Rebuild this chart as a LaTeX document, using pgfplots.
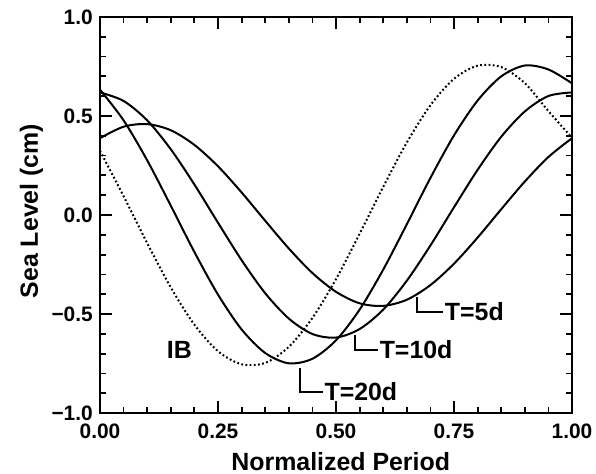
\documentclass[border=0pt]{standalone}
\usepackage{fontspec}
\setmainfont{Liberation Sans}
\usepackage{pgfplots}
\pgfplotsset{compat=1.18}

\begin{document}
\fontsize{21}{25}\selectfont\bfseries
\begin{tikzpicture}
\begin{axis}[
  scale only axis, width=472bp, height=396bp,
  xmin=0, xmax=1, ymin=-1, ymax=1,
  xtick={0,0.25,0.5,0.75,1}, xticklabels={0.00,0.25,0.50,0.75,1.00},
  ytick={-1,-0.5,0,0.5,1}, yticklabels={−1.0,−0.5,0.0,0.5,1.0},
  minor x tick num=4, minor y tick num=4,
  tick align=inside, major tick length=12bp, minor tick length=6bp,
  every tick/.style={black, line width=1.8bp},
  axis line style={line width=2.5bp},
  tick label style={font=\fontsize{21}{25}\selectfont\bfseries},
  xticklabel style={yshift=-4bp},
  xlabel={Normalized Period}, ylabel={Sea Level (cm)},
  label style={font=\fontsize{25}{29}\selectfont\bfseries},
  xlabel style={at={([yshift=-57bp]axis description cs:0.51,0)}, anchor=base},
  ylabel style={at={([xshift=-62bp]axis description cs:0,0.51)}, anchor=base},
]
% IB (dotted)
\addplot[black, line width=2bp, dash pattern=on 1.8bp off 2.4bp, smooth, tension=0.5] coordinates {
(0,0.324)(0.05,0.095)(0.10,-0.142)(0.15,-0.366)(0.20,-0.554)(0.25,-0.688)(0.30,-0.754)
(0.35,-0.747)(0.40,-0.666)(0.45,-0.520)(0.50,-0.324)(0.55,-0.095)(0.60,0.142)(0.65,0.366)
(0.70,0.554)(0.75,0.688)(0.80,0.754)(0.85,0.747)(0.90,0.666)(0.95,0.525)(1.00,0.390)};
% T=20d
\addplot[black, line width=2bp, smooth, tension=0.5] coordinates {
(0,0.633)(0.05,0.478)(0.10,0.276)(0.15,0.047)(0.20,-0.187)(0.25,-0.402)(0.30,-0.578)
(0.35,-0.697)(0.40,-0.749)(0.45,-0.726)(0.50,-0.633)(0.55,-0.478)(0.60,-0.276)(0.65,-0.047)
(0.70,0.187)(0.75,0.402)(0.80,0.578)(0.85,0.700)(0.90,0.755)(0.95,0.735)(1.00,0.665)};
% T=10d
\addplot[black, line width=2bp, smooth, tension=0.5] coordinates {
(0,0.619)(0.05,0.576)(0.10,0.478)(0.15,0.332)(0.20,0.154)(0.25,-0.039)(0.30,-0.228)
(0.35,-0.395)(0.40,-0.523)(0.45,-0.601)(0.50,-0.619)(0.55,-0.576)(0.60,-0.478)(0.65,-0.332)
(0.70,-0.154)(0.75,0.039)(0.80,0.228)(0.85,0.395)(0.90,0.523)(0.95,0.601)(1.00,0.619)};
% T=5d
\addplot[black, line width=2bp, smooth, tension=0.5] coordinates {
(0,0.388)(0.05,0.446)(0.10,0.459)(0.15,0.428)(0.20,0.354)(0.25,0.246)(0.30,0.114)
(0.35,-0.029)(0.40,-0.169)(0.45,-0.293)(0.50,-0.388)(0.55,-0.446)(0.60,-0.459)(0.65,-0.428)
(0.70,-0.354)(0.75,-0.246)(0.80,-0.114)(0.85,0.029)(0.90,0.169)(0.95,0.293)(1.00,0.388)};

\draw[line width=1.5bp] (axis cs:0.424,-0.773) |- (axis cs:0.472,-0.894)
  node[anchor=west, inner sep=1bp, font=\fontsize{25}{29}\selectfont\bfseries] {T=20d};
\draw[line width=1.5bp] (axis cs:0.540,-0.606) |- (axis cs:0.589,-0.682)
  node[anchor=west, inner sep=1bp, font=\fontsize{25}{29}\selectfont\bfseries] {T=10d};
\draw[line width=1.5bp] (axis cs:0.672,-0.414) |- (axis cs:0.727,-0.49)
  node[anchor=west, inner sep=1bp, font=\fontsize{25}{29}\selectfont\bfseries] {T=5d};
\node[font=\fontsize{25}{29}\selectfont\bfseries] at (axis cs:0.168,-0.68) {IB};
\end{axis}
\pgfresetboundingbox
\path (-100bp,-61bp) rectangle (496bp,413bp);
\end{tikzpicture}
\end{document}
